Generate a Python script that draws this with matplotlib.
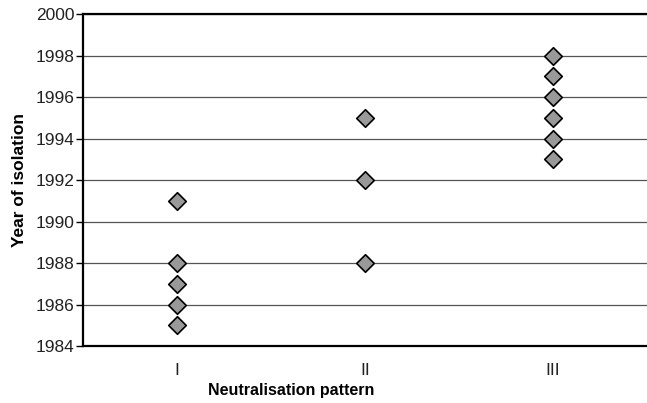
import matplotlib.pyplot as plt

# DATA -----------------------------------------------------------------------
patterns = ["I", "II", "III"]
years_I = [1991, 1988, 1987, 1986, 1985]
years_II = [1995, 1992, 1988]
years_III = [1998, 1997, 1996, 1995, 1994, 1993]

plt.rcParams['font.family'] = ['Liberation Sans', 'DejaVu Sans']

fig = plt.figure(figsize=(6.47, 4.03), dpi=100)
ax = fig.add_axes([0.128, 0.141, 0.872, 0.824])

for i, yrs in enumerate([years_I, years_II, years_III]):
    ax.scatter([i + 0.5] * len(yrs), yrs, marker='D', s=80, color='#999999',
               edgecolor='black', linewidth=1.2, zorder=3, clip_on=False)

ax.set_xlim(0, 3)
ax.set_ylim(1984, 2000)
ax.set_yticks(range(1984, 2001, 2))
ax.set_xticks([0.5, 1.5, 2.5])
ax.set_xticklabels(patterns)
ax.tick_params(axis='x', length=0, pad=12, labelsize=12.5, colors='#222222')
ax.tick_params(axis='y', length=5, width=1, labelsize=12.5, pad=1, labelcolor='#222222')

ax.yaxis.grid(True, color='#555555', linewidth=0.9)
ax.set_axisbelow(True)

ax.spines['right'].set_visible(False)
for s in ['left', 'top', 'bottom']:
    ax.spines[s].set_linewidth(1.6)

ax.set_xlabel("Neutralisation pattern", fontweight='bold', fontsize=11.5, labelpad=5)
ax.xaxis.set_label_coords(0.37, -0.11)
ax.set_ylabel("Year of isolation", fontweight='bold', fontsize=12.5, labelpad=6)

plt.savefig("out.png", dpi=100)
